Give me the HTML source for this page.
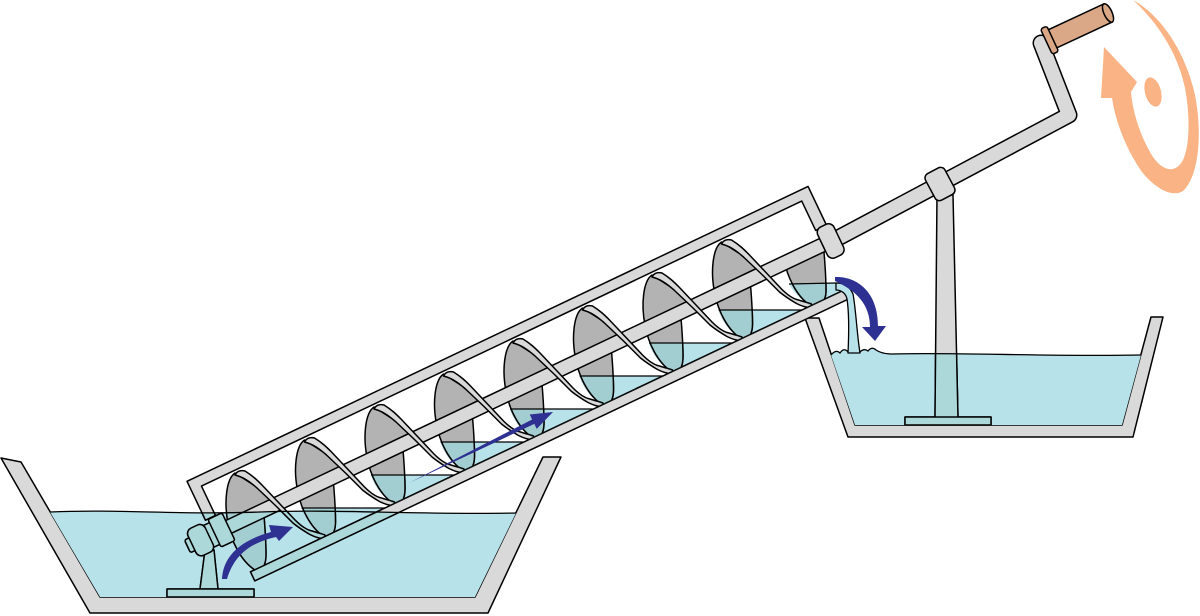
<!DOCTYPE html>
<html><head><meta charset="utf-8"><style>
html,body{margin:0;padding:0;background:#fff;width:1200px;height:616px;overflow:hidden}
svg{display:block}
</style></head><body>
<svg xmlns="http://www.w3.org/2000/svg" width="1200" height="616" viewBox="0 0 1200 616">
<defs>
<clipPath id="inner"><rect x="-27" y="525" width="672" height="99" transform="rotate(-25.4)"/></clipPath>
<clipPath id="lowhalf"><rect x="-100" y="574" width="800" height="100" transform="rotate(-25.4)"/></clipPath>
<clipPath id="wclip">
 <path d="M50,512 C120,509 180,515 260,512 C340,509 420,515 516,513 L475,597 L100,597 Z"/>
 <path d="M831,355 Q836,349 840,353 Q844,347 848,352 L860,352 Q864,348 868,351 Q872,346 876,350 Q882,354 892,354 C960,352 1050,357 1141,355 L1122,425 L855,425 Z"/>
 <path transform="translate(304.5,440)" d="M-3,68 L80.5,68 L20,96.7 C8,90 0,79 -3,68 Z"/>
 <path transform="translate(374,407)" d="M-3,68 L80.5,68 L20,96.7 C8,90 0,79 -3,68 Z"/>
 <path transform="translate(443.5,374)" d="M-3,68 L80.5,68 L20,96.7 C8,90 0,79 -3,68 Z"/>
 <path transform="translate(513,341)" d="M-3,68 L80.5,68 L20,96.7 C8,90 0,79 -3,68 Z"/>
 <path transform="translate(582.5,308)" d="M-3,68 L80.5,68 L20,96.7 C8,90 0,79 -3,68 Z"/>
 <path transform="translate(652,275)" d="M-3,68 L80.5,68 L20,96.7 C8,90 0,79 -3,68 Z"/>
 <path transform="translate(721.5,242)" d="M-3,68 L80.5,68 L20,96.7 C8,90 0,79 -3,68 Z"/>
 <path d="M789,284 L838,283 C845,283 849,286 851,291 L844,290 L811,305.7 C801,300 793,292 789,284 Z"/>
</clipPath>

<g id="scene" stroke="#000" stroke-width="1.5" stroke-linejoin="round">
 <path style="fill:var(--L,#d9d9d9)" d="M937,195 L953,195 L958,418 L935,418 Z"/>
 <rect style="fill:var(--L,#d9d9d9)" x="905" y="417" width="86" height="8"/>
 <path style="fill:var(--L,#d9d9d9)" d="M205,550 L214,550 L218,589 L200,589 Z"/>
 <rect style="fill:var(--L,#d9d9d9)" x="167" y="589" width="87" height="8"/>

 <g clip-path="url(#inner)">
  <g style="fill:var(--F,#b3b3b3)">
   <path transform="translate(235,473)" d="M0,0 C-9,6 -11,30 -7,50 C-4,68 6,88 20,97 C27,99 31,92 31,82 C31,68 30,55 29,43 L44,31 L25,16 Z"/>
   <path transform="translate(304.5,440)" d="M0,0 C-9,6 -11,30 -7,50 C-4,68 6,88 20,97 C27,99 31,92 31,82 C31,68 30,55 29,43 L44,31 L25,16 Z"/>
   <path transform="translate(374,407)" d="M0,0 C-9,6 -11,30 -7,50 C-4,68 6,88 20,97 C27,99 31,92 31,82 C31,68 30,55 29,43 L44,31 L25,16 Z"/>
   <path transform="translate(443.5,374)" d="M0,0 C-9,6 -11,30 -7,50 C-4,68 6,88 20,97 C27,99 31,92 31,82 C31,68 30,55 29,43 L44,31 L25,16 Z"/>
   <path transform="translate(513,341)" d="M0,0 C-9,6 -11,30 -7,50 C-4,68 6,88 20,97 C27,99 31,92 31,82 C31,68 30,55 29,43 L44,31 L25,16 Z"/>
   <path transform="translate(582.5,308)" d="M0,0 C-9,6 -11,30 -7,50 C-4,68 6,88 20,97 C27,99 31,92 31,82 C31,68 30,55 29,43 L44,31 L25,16 Z"/>
   <path transform="translate(652,275)" d="M0,0 C-9,6 -11,30 -7,50 C-4,68 6,88 20,97 C27,99 31,92 31,82 C31,68 30,55 29,43 L44,31 L25,16 Z"/>
   <path transform="translate(721.5,242)" d="M0,0 C-9,6 -11,30 -7,50 C-4,68 6,88 20,97 C27,99 31,92 31,82 C31,68 30,55 29,43 L44,31 L25,16 Z"/>
   <g clip-path="url(#lowhalf)">
    <path transform="translate(791,209)" d="M0,0 C-9,6 -11,30 -7,50 C-4,68 6,88 20,97 C29,99 35,92 35,82 C35,68 34,55 33,43 L44,31 L25,16 Z"/>
   </g>
  </g>
  <rect style="fill:var(--L,#d9d9d9)" x="-20" y="567" width="658" height="14" transform="rotate(-25.4)"/>
  <g style="fill:var(--L,#d9d9d9)">
   <path transform="translate(235,473)" d="M0,2 C2,-2 6,-3 10,-2 C18,3 22,7 27,12 L44,30 L60,47 C66,53 72,57 77,58 C83,60 88,61 90,62 C90,65 89,65.5 87,65.5 C83,65 79,63.5 75,61.5 C69,58 63,54 58,50 L41,33 L22,15 C14,8 8,4 0,2 Z"/>
   <path transform="translate(304.5,440)" d="M0,2 C2,-2 6,-3 10,-2 C18,3 22,7 27,12 L44,30 L60,47 C66,53 72,57 77,58 C83,60 88,61 90,62 C90,65 89,65.5 87,65.5 C83,65 79,63.5 75,61.5 C69,58 63,54 58,50 L41,33 L22,15 C14,8 8,4 0,2 Z"/>
   <path transform="translate(374,407)" d="M0,2 C2,-2 6,-3 10,-2 C18,3 22,7 27,12 L44,30 L60,47 C66,53 72,57 77,58 C83,60 88,61 90,62 C90,65 89,65.5 87,65.5 C83,65 79,63.5 75,61.5 C69,58 63,54 58,50 L41,33 L22,15 C14,8 8,4 0,2 Z"/>
   <path transform="translate(443.5,374)" d="M0,2 C2,-2 6,-3 10,-2 C18,3 22,7 27,12 L44,30 L60,47 C66,53 72,57 77,58 C83,60 88,61 90,62 C90,65 89,65.5 87,65.5 C83,65 79,63.5 75,61.5 C69,58 63,54 58,50 L41,33 L22,15 C14,8 8,4 0,2 Z"/>
   <path transform="translate(513,341)" d="M0,2 C2,-2 6,-3 10,-2 C18,3 22,7 27,12 L44,30 L60,47 C66,53 72,57 77,58 C83,60 88,61 90,62 C90,65 89,65.5 87,65.5 C83,65 79,63.5 75,61.5 C69,58 63,54 58,50 L41,33 L22,15 C14,8 8,4 0,2 Z"/>
   <path transform="translate(582.5,308)" d="M0,2 C2,-2 6,-3 10,-2 C18,3 22,7 27,12 L44,30 L60,47 C66,53 72,57 77,58 C83,60 88,61 90,62 C90,65 89,65.5 87,65.5 C83,65 79,63.5 75,61.5 C69,58 63,54 58,50 L41,33 L22,15 C14,8 8,4 0,2 Z"/>
   <path transform="translate(652,275)" d="M0,2 C2,-2 6,-3 10,-2 C18,3 22,7 27,12 L44,30 L60,47 C66,53 72,57 77,58 C83,60 88,61 90,62 C90,65 89,65.5 87,65.5 C83,65 79,63.5 75,61.5 C69,58 63,54 58,50 L41,33 L22,15 C14,8 8,4 0,2 Z"/>
   <path transform="translate(721.5,242)" d="M0,2 C2,-2 6,-3 10,-2 C18,3 22,7 27,12 L44,30 L60,47 C66,53 72,57 77,58 C83,60 88,61 90,62 C90,65 89,65.5 87,65.5 C83,65 79,63.5 75,61.5 C69,58 63,54 58,50 L41,33 L22,15 C14,8 8,4 0,2 Z"/>
  </g>
 </g>

 <path d="M838,238 L1069,115 L1041,43" fill="none" stroke="#000" stroke-width="17" stroke-linecap="round"/>
 <path d="M838,238 L1069,115 L1041,43" fill="none" style="stroke:var(--L,#d9d9d9)" stroke-width="14" stroke-linecap="round"/>

 <g transform="rotate(-25.4)">
  <path style="fill:var(--L,#d9d9d9)" d="M-37.5,515 L650,515 L650,558 L638,558 L638,525.5 L-26.5,525.5 L-26.5,558 L-37.5,558 Z"/>
  <rect style="fill:var(--L,#d9d9d9)" x="-19" y="624" width="657" height="10"/>
  <rect style="fill:var(--L,#d9d9d9)" x="-65" y="567" width="6" height="14" rx="2"/>
  <rect style="fill:var(--L,#d9d9d9)" x="-42" y="562" width="8" height="24"/>
  <rect style="fill:var(--L,#d9d9d9)" x="-60" y="559" width="19" height="30" rx="6"/>
  <rect style="fill:var(--L,#d9d9d9)" x="-35" y="558.5" width="15.5" height="30.5" rx="2"/>
  <rect style="fill:var(--L,#d9d9d9)" x="638" y="557" width="18" height="34" rx="6"/>
 </g>

 <rect style="fill:var(--L,#d9d9d9)" x="-11" y="-15" width="22" height="30" rx="5" transform="translate(940,184) rotate(-28)"/>

 <g transform="translate(1050,40) rotate(-25)">
  <rect style="fill:var(--H,#dba887)" x="2" y="-10" width="62" height="20"/>
  <ellipse style="fill:var(--H,#dba887)" cx="64" cy="0" rx="4" ry="10"/>
  <rect style="fill:var(--H,#dba887)" x="-4" y="-14" width="7" height="28" rx="2.5"/>
 </g>
</g>
</defs>

<g fill="#d9d9d9" stroke="#000" stroke-width="1.5" stroke-linejoin="round">
 <path d="M1,458 L21,462 L100,597 L475,597 L543,457 L561,457 L488,613 L90,613 Z"/>
 <path d="M805,318 L819,318 L855,425 L1122,425 L1151,317 L1163,317 L1133,437 L848,437 Z"/>
</g>

<g fill="#b8e2ea" stroke="none">
 <path d="M50,512 C120,509 180,515 260,512 C340,509 420,515 516,513 L475,597 L100,597 Z"/>
 <path d="M831,355 Q836,349 840,353 Q844,347 848,352 L860,352 Q864,348 868,351 Q872,346 876,350 Q882,354 892,354 C960,352 1050,357 1141,355 L1122,425 L855,425 Z"/>
 <path transform="translate(304.5,440)" d="M-3,68 L80.5,68 L20,96.7 C8,90 0,79 -3,68 Z"/>
 <path transform="translate(374,407)" d="M-3,68 L80.5,68 L20,96.7 C8,90 0,79 -3,68 Z"/>
 <path transform="translate(443.5,374)" d="M-3,68 L80.5,68 L20,96.7 C8,90 0,79 -3,68 Z"/>
 <path transform="translate(513,341)" d="M-3,68 L80.5,68 L20,96.7 C8,90 0,79 -3,68 Z"/>
 <path transform="translate(582.5,308)" d="M-3,68 L80.5,68 L20,96.7 C8,90 0,79 -3,68 Z"/>
 <path transform="translate(652,275)" d="M-3,68 L80.5,68 L20,96.7 C8,90 0,79 -3,68 Z"/>
 <path transform="translate(721.5,242)" d="M-3,68 L80.5,68 L20,96.7 C8,90 0,79 -3,68 Z"/>
 <path d="M789,284 L838,283 C845,283 849,286 851,291 L844,290 L811,305.7 C801,300 793,292 789,284 Z"/>
</g>

<use href="#scene"/>
<use href="#scene" clip-path="url(#wclip)" style="--L:#acd8da;--F:#a3ced1;--H:#dba887"/>

<g fill="none" stroke="#000" stroke-width="1.3">
 <path d="M50,512 C120,509 180,515 260,512 C340,509 420,515 516,513"/>
 <path d="M831,355 Q836,349 840,353 Q844,347 848,352 M860,352 Q864,348 868,351 Q872,346 876,350 Q882,354 892,354 C960,352 1050,357 1141,355"/>
 <path d="M301.5,508 H385"/>
 <path d="M371,475 H454.5"/>
 <path d="M440.5,442 H524"/>
 <path d="M510,409 H593.5"/>
 <path d="M579.5,376 H663"/>
 <path d="M649,343 H732.5"/>
 <path d="M718.5,310 H802"/>
 <path d="M789,284 L836,283"/>
</g>

<path d="M836,283 C845,283 850,287 853,294 C856,310 857,335 860,353 L848,353 C849,332 849,312 847,299 C846,294 842,290 836,290 Z" fill="#b8e2ea" stroke="#000" stroke-width="1.3" stroke-linejoin="round"/>

<g fill="#2e3192">
 <path d="M222,579 C223,558 238,541 271,532 L269,525 L293,527 L279,541 L276,537 C249,543 234,556 227,579 Z"/>
 <path d="M410,482.5 L532.1,419.5 L529.7,414.5 L553,412 L536.7,428.9 L534.3,423.9 Z"/>
 <path d="M835,277 C855,276 878,290 878,326 L886,326 L875,341 L862,327 L870,327 C870,305 857,291 835,281 Z"/>
</g>

<g fill="#f9b384">
 <path d="M1133,0 C1160,15 1185,50 1195,95 C1202,130 1200,175 1183,191 C1172,198 1155,188 1142,172 C1128,152 1116,125 1112,98 L1101,98 L1104,47 L1137,82 L1131,92 C1133,115 1142,140 1153,157 C1162,170 1175,175 1183,160 C1190,145 1190,115 1185,88 C1178,55 1160,25 1133,0 Z"/>
 <ellipse cx="1153" cy="92" rx="8" ry="15" transform="rotate(-15 1153 92)"/>
</g>
</svg>
</body></html>
